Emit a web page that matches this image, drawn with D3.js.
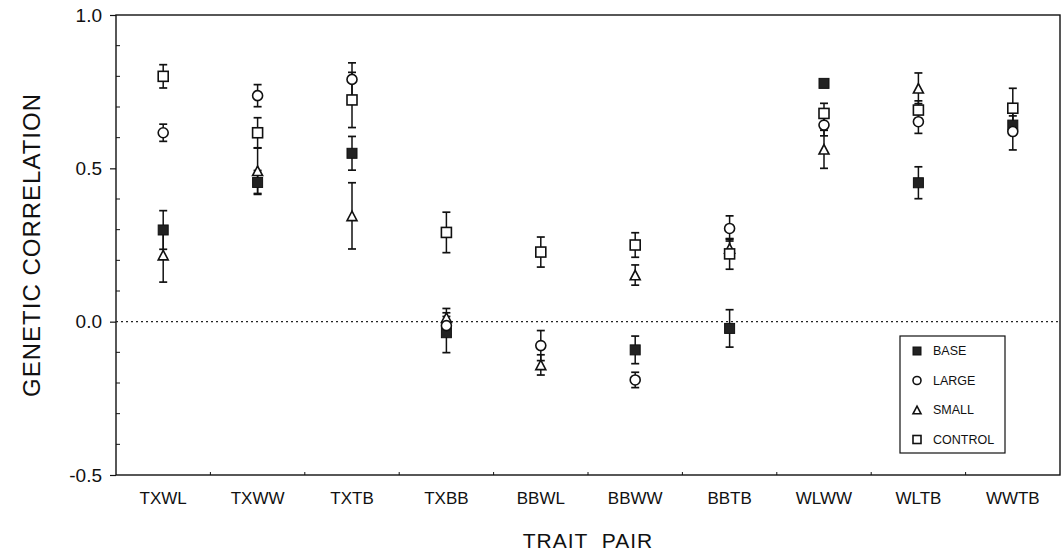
<!DOCTYPE html>
<html>
<head>
<meta charset="utf-8">
<script src="https://cdn.jsdelivr.net/npm/d3@7"></script>
<style>
  html, body { margin: 0; padding: 0; background: #fff; }
  svg { display: block; font-family: "Liberation Sans", Arial, sans-serif; }
</style>
</head>
<body>
<svg id="chart" width="1062" height="554"></svg>
<script>
// Trait pairs along the x axis
const traitPairs = ["TXWL", "TXWW", "TXTB", "TXBB", "BBWL", "BBWW", "BBTB", "WLWW", "WLTB", "WWTB"];
const lines = ["BASE", "LARGE", "SMALL", "CONTROL"];
const yTicks = [-0.5, 0.0, 0.5, 1.0];

// genetic correlation estimates per line (null = not shown)
const baseValues    = [0.299, 0.454, 0.549, -0.036, null, -0.092, -0.022, 0.777, 0.453, 0.641];
const baseErrors    = [0.063, 0.039, 0.055, 0.065, null, 0.045, 0.061, 0.010, 0.052, 0.030];
const largeValues   = [0.616, 0.737, 0.790, -0.013, -0.078, -0.190, 0.304, 0.641, 0.652, 0.620];
const largeErrors   = [0.028, 0.036, 0.054, 0.030, 0.049, 0.025, 0.041, 0.035, 0.038, 0.060];
const smallValues   = [0.217, 0.492, 0.345, 0.013, -0.141, 0.152, 0.239, 0.562, 0.761, null];
const smallErrors   = [0.088, 0.074, 0.108, 0.030, 0.033, 0.033, 0.030, 0.062, 0.050, null];
const controlValues = [0.800, 0.616, 0.723, 0.291, 0.227, 0.250, 0.221, 0.679, 0.690, 0.696];
const controlErrors = [0.038, 0.049, 0.090, 0.066, 0.049, 0.040, 0.050, 0.033, 0.030, 0.065];

const seriesValues = {
  BASE: [baseValues, baseErrors],
  LARGE: [largeValues, largeErrors],
  SMALL: [smallValues, smallErrors],
  CONTROL: [controlValues, controlErrors]
};

const margin = { left: 116, right: 2, top: 15, bottom: 80 };
const width = 1062, height = 554;
const svg = d3.select("#chart");

const x = d3.scaleBand().domain(traitPairs).range([margin.left, width - margin.right]);
const y = d3.scaleLinear().domain([-0.5, 1.0]).range([height - margin.bottom + 1, margin.top]);

// frame
svg.append("rect")
  .attr("x", margin.left).attr("y", margin.top)
  .attr("width", width - margin.right - margin.left)
  .attr("height", y(-0.5) - margin.top)
  .attr("fill", "none").attr("stroke", "#111").attr("stroke-width", 1.4);

// y axis: major ticks outside, minor inside
const yAxis = svg.append("g").attr("transform", `translate(${margin.left},0)`);
yAxis.call(d3.axisLeft(y).tickValues(yTicks).tickSize(6).tickPadding(8))
  .call(g => g.select(".domain").remove())
  .call(g => g.selectAll("text").attr("font-size", 19).attr("fill", "#111")
    .text(d => d < 0 ? "-" + Math.abs(d).toFixed(1) : d.toFixed(1)))
  .call(g => g.selectAll("line").attr("stroke", "#111").attr("stroke-width", 1.2));
yAxis.selectAll(".minor").data(d3.range(-4, 10).map(i => i / 10).filter(v => Math.abs(v * 2 - Math.round(v * 2)) > 1e-6))
  .join("line").attr("class", "minor")
  .attr("x1", 0).attr("x2", 4).attr("y1", d => y(d)).attr("y2", d => y(d))
  .attr("stroke", "#111");

// x axis
const xAxis = svg.append("g").attr("transform", `translate(0,${y(-0.5)})`);
xAxis.call(d3.axisBottom(x).tickSize(0).tickPadding(17))
  .call(g => g.select(".domain").remove())
  .call(g => g.selectAll("text").attr("font-size", 17).attr("fill", "#111"));
xAxis.selectAll(".bound").data(traitPairs.slice(1))
  .join("line").attr("class", "bound")
  .attr("x1", d => x(d)).attr("x2", d => x(d)).attr("y1", 0).attr("y2", -3)
  .attr("stroke", "#111");

// zero reference line
svg.append("line")
  .attr("x1", margin.left).attr("x2", width - margin.right)
  .attr("y1", y(0)).attr("y2", y(0))
  .attr("stroke", "#222").attr("stroke-width", 1.2).attr("stroke-dasharray", "2,3");

// axis titles
svg.append("text")
  .attr("transform", `translate(40,${(y(1) + y(-0.5)) / 2}) rotate(-90)`)
  .attr("text-anchor", "middle").attr("font-size", 24).attr("letter-spacing", 1)
  .attr("fill", "#111").text("GENETIC CORRELATION");
svg.append("text")
  .attr("x", (margin.left + width - margin.right) / 2).attr("y", 548)
  .attr("text-anchor", "middle").attr("font-size", 21).attr("letter-spacing", 1)
  .attr("fill", "#111").attr("xml:space", "preserve").text("TRAIT  PAIR");

// marker drawing
function drawMarker(g, name, cx, cy, s) {
  if (name === "BASE") {
    g.append("rect").attr("x", cx - s / 2).attr("y", cy - s / 2).attr("width", s).attr("height", s)
      .attr("fill", "#222").attr("stroke", "#111").attr("stroke-width", 1);
  } else if (name === "LARGE") {
    g.append("circle").attr("cx", cx).attr("cy", cy).attr("r", s / 2)
      .attr("fill", "#fff").attr("stroke", "#111").attr("stroke-width", 1.6);
  } else if (name === "SMALL") {
    const h = s * 0.95;
    g.append("path")
      .attr("d", `M${cx},${cy - h / 2}L${cx + s / 2},${cy + h / 2}L${cx - s / 2},${cy + h / 2}Z`)
      .attr("fill", "#fff").attr("stroke", "#111").attr("stroke-width", 1.6);
  } else {
    g.append("rect").attr("x", cx - s / 2).attr("y", cy - s / 2).attr("width", s).attr("height", s)
      .attr("fill", "#fff").attr("stroke", "#111").attr("stroke-width", 1.6);
  }
}

// error bars first, then markers
const plot = svg.append("g");
const bars = plot.append("g"), marks = plot.append("g");
lines.forEach(name => {
  const [vals, errs] = seriesValues[name];
  traitPairs.forEach((t, i) => {
    if (vals[i] == null) return;
    const cx = x(t) + x.bandwidth() / 2;
    const lo = y(vals[i] - errs[i]), hi = y(vals[i] + errs[i]);
    bars.append("line").attr("x1", cx).attr("x2", cx).attr("y1", lo).attr("y2", hi)
      .attr("stroke", "#111").attr("stroke-width", 1.5);
    [lo, hi].forEach(yy => bars.append("line")
      .attr("x1", cx - 4).attr("x2", cx + 4).attr("y1", yy).attr("y2", yy)
      .attr("stroke", "#111").attr("stroke-width", 1.7));
  });
});
["BASE", "SMALL", "CONTROL", "LARGE"].forEach(name => {
  const [vals] = seriesValues[name];
  traitPairs.forEach((t, i) => {
    if (vals[i] == null) return;
    drawMarker(marks, name, x(t) + x.bandwidth() / 2, y(vals[i]), 10);
  });
});

// legend
const legend = svg.append("g").attr("transform", "translate(900,336)");
legend.append("rect").attr("width", 105).attr("height", 117)
  .attr("fill", "#fff").attr("stroke", "#111").attr("stroke-width", 1.2);
lines.forEach((name, i) => {
  const ly = 15 + i * 29.5;
  drawMarker(legend, name, 17, ly, 8);
  legend.append("text").attr("x", 33).attr("y", ly).attr("dy", "0.35em")
    .attr("font-size", 12.5).attr("fill", "#111").text(name);
});
</script>
</body>
</html>
